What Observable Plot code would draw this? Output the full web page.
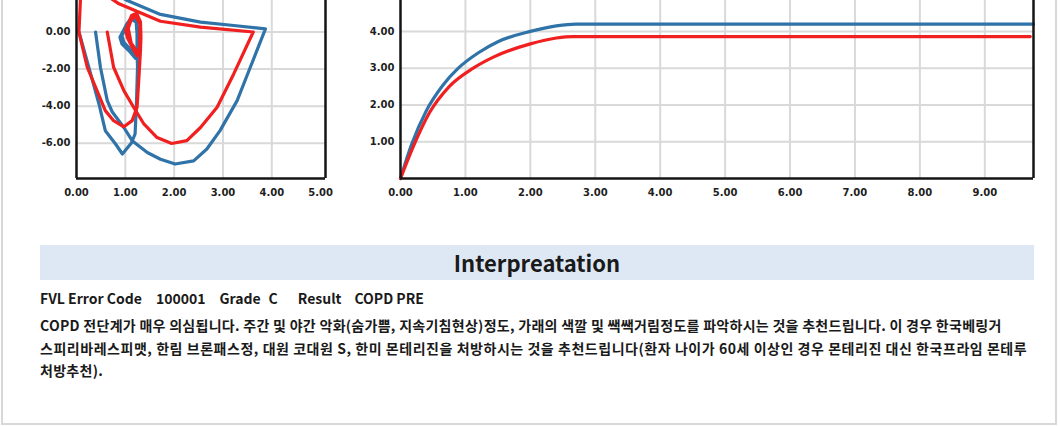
<!DOCTYPE html>
<html>
<head>
<meta charset="utf-8">
<script src="https://cdn.jsdelivr.net/npm/d3@7"></script>
<script src="https://cdn.jsdelivr.net/npm/@observablehq/plot@0.6"></script>
<style>
  html, body { margin: 0; padding: 0; background: #fff; }
  #page { position: relative; width: 1060px; height: 426px; overflow: hidden; background: #fff; }
  #border { position: absolute; left: 1px; top: -10px; width: 1056px; height: 435px; border: 2px solid #d8d8d8; box-sizing: border-box; }
  #fvl { position: absolute; left: 0; top: 0; }
  #vt { position: absolute; left: 345px; top: 0; }
  #band { position: absolute; left: 40px; top: 245px; width: 994px; height: 35px; background: #dee8f4;
          font-family: "Noto Sans CJK KR", "Noto Sans", sans-serif; font-weight: 700; font-size: 22px;
          color: #1a1a1a; text-align: center; line-height: 35px; }
  #info { position: absolute; left: 40px; top: 288px; font-family: "Noto Sans CJK KR", "Noto Sans", sans-serif;
          font-weight: 700; font-size: 14px; color: #1a1a1a; white-space: nowrap; line-height: 20px; }
  #info span { display: inline-block; }
  #info span:nth-child(1) { margin-right: 14px; }
  #info span:nth-child(2) { margin-right: 14px; }
  #info span:nth-child(3) { margin-right: 8px; }
  #info span:nth-child(4) { margin-right: 20px; }
  #info span:nth-child(5) { margin-right: 13px; }
  #para { position: absolute; left: 40px; top: 314px; font-family: "Noto Sans CJK KR", "Noto Sans", sans-serif;
          font-weight: 700; font-size: 14px; letter-spacing: 0.28px; color: #1a1a1a; line-height: 22.5px; }
  #para div { white-space: nowrap; }
  #para div:nth-child(2) { letter-spacing: 0.54px; }
</style>
</head>
<body>
<div id="page">
  <div id="border"></div>
  <div id="fvl"></div>
  <div id="vt"></div>
  <div id="band"></div>
  <div id="info"></div>
  <div id="para"></div>
</div>
<script>
// ---------- Data ----------
// Flow-volume chart (left): volume (x), flow (y)
const fvlXTicks = [0, 1, 2, 3, 4, 5];
const fvlYTicks = [0, -2, -4, -6];
const fvlXGrid = [1, 2, 3, 4];
const fvlYGrid = [0, -2, -4, -6];

const blueBigLoop = [
  [0.39, 0.0], [0.49, -1.9], [0.63, -3.7], [0.73, -4.3], [0.97, -5.15], [1.14, -5.86], [1.45, -6.5],
  [1.72, -6.86], [2.02, -7.12], [2.40, -6.95], [2.67, -6.31], [2.94, -5.32], [3.29, -3.7],
  [3.56, -1.9], [3.87, 0.17], [3.22, 0.35], [2.54, 0.53], [1.72, 0.95], [1.04, 1.7], [0.7, 2.2]
];
const blueVLoop = [
  [0.05, 0.0], [0.29, -2.26], [0.46, -3.88], [0.59, -5.32], [0.80, -6.04], [0.94, -6.58],
  [1.12, -6.0], [1.20, -5.5], [1.23, -3.7], [1.25, -1.9], [1.24, -1.0], [1.24, -0.1],
  [1.22, 0.62], [1.14, 0.82], [1.03, 0.44], [0.89, -0.28], [0.93, -0.64], [1.07, -1.0],
  [1.21, -1.42], [1.27, -1.0], [1.27, -0.1], [1.23, 0.52], [1.13, 0.68], [1.02, 0.3],
  [0.93, -0.2], [0.97, -0.55], [1.1, -0.92], [1.2, -1.2]
];
const redBigLoop = [
  [0.63, 0.0], [0.76, -1.9], [0.97, -3.16], [1.17, -4.06], [1.38, -4.96], [1.65, -5.69],
  [1.95, -6.01], [2.26, -5.86], [2.54, -5.15], [2.88, -4.06], [3.22, -2.26], [3.62, 0.0],
  [2.54, 0.26], [1.72, 0.58], [0.87, 1.52], [0.6, 2.0]
];
const redVLoop = [
  [0.1, 2.2], [0.08, 1.7], [0.05, 0.0], [0.22, -1.9], [0.42, -3.16], [0.59, -4.24], [0.76, -4.78],
  [0.97, -5.11], [1.14, -4.78], [1.24, -4.06], [1.27, -2.8], [1.31, -1.0], [1.32, -0.28],
  [1.31, 0.55], [1.23, 1.02], [1.13, 0.9], [1.01, 0.1], [1.04, -0.28], [1.14, -0.82],
  [1.24, -1.27], [1.29, -1.0], [1.3, 0.4], [1.22, 0.85], [1.12, 0.66], [1.06, 0.2], [1.12, -0.6], [1.26, -1.1]
];

// Volume-time chart (right): time (x), volume (y)
const vtXTicks = [0, 1, 2, 3, 4, 5, 6, 7, 8, 9];
const vtYTicks = [1, 2, 3, 4];
const blueVT = [
  [0, 0], [0.17, 0.92], [0.4, 1.85], [0.65, 2.53], [0.89, 3.0], [1.2, 3.42], [1.5, 3.72],
  [2.0, 4.0], [2.4, 4.15], [2.7, 4.2], [9.75, 4.2]
];
const redVT = [
  [0, 0], [0.2, 0.88], [0.45, 1.8], [0.75, 2.5], [1.12, 3.0], [1.43, 3.3], [2.0, 3.66],
  [2.4, 3.82], [2.65, 3.86], [9.7, 3.86]
];

// Texts
const bandTitle = "Interpreatation";
const infoItems = ["FVL Error Code", "100001", "Grade", "C", "Result", "COPD PRE"];
const paraLines = [
  "COPD 전단계가 매우 의심됩니다. 주간 및 야간 악화(숨가쁨, 지속기침현상)정도, 가래의 색깔 및 쌕쌕거림정도를 파악하시는 것을 추천드립니다. 이 경우 한국베링거",
  "스피리바레스피맷, 한림 브론패스정, 대원 코대원 S, 한미 몬테리진을 처방하시는 것을 추천드립니다(환자 나이가 60세 이상인 경우 몬테리진 대신 한국프라임 몬테루",
  "처방추천)."
];

// ---------- Styles ----------
const BLUE = "#2f73a8";
const RED = "#f02020";
const GRID = "#d9d9d9";
const AXIS = "#141414";
const fmt = d => d.toFixed(2);
const axisStyle = { fontFamily: "DejaVu Sans", fontSize: "10px", fontWeight: "bold", color: "#1e1e1e", background: "transparent" };

// ---------- Left chart ----------
const fvlX = [0, 5.1], fvlY = [-7.9, 1.7];
const fvl = Plot.plot({
  width: 345, height: 210, marginLeft: 76, marginRight: 20, marginTop: 0, marginBottom: 32,
  style: axisStyle,
  x: { domain: fvlX },
  y: { domain: fvlY },
  marks: [
    Plot.gridX({ ticks: fvlXGrid, stroke: GRID, strokeOpacity: 1, strokeWidth: 2 }),
    Plot.gridY({ ticks: fvlYGrid, stroke: GRID, strokeOpacity: 1, strokeWidth: 2 }),
    Plot.line(blueBigLoop, { x: d => d[0], y: d => d[1], stroke: BLUE, strokeWidth: 3.2, clip: true }),
    Plot.line(blueVLoop, { x: d => d[0], y: d => d[1], stroke: BLUE, strokeWidth: 3.2, clip: true }),
    Plot.line(redBigLoop, { x: d => d[0], y: d => d[1], stroke: RED, strokeWidth: 3.2, clip: true }),
    Plot.line(redVLoop, { x: d => d[0], y: d => d[1], stroke: RED, strokeWidth: 3.2, clip: true }),
    Plot.ruleX([fvlX[0]], { stroke: AXIS, strokeWidth: 2.5 }),
    Plot.ruleX([fvlX[1]], { stroke: AXIS, strokeWidth: 2.5 }),
    Plot.ruleY([fvlY[0]], { stroke: AXIS, strokeWidth: 2.5 }),
    Plot.axisX({ ticks: fvlXTicks, tickSize: 0, tickPadding: 10, tickFormat: fmt, label: null }),
    Plot.axisY({ ticks: fvlYTicks, tickSize: 0, tickPadding: 6, tickFormat: fmt, label: null })
  ]
});
document.getElementById("fvl").appendChild(fvl);

// ---------- Right chart ----------
const vtX = [0, 9.75], vtY = [0, 4.84];
const vt = Plot.plot({
  width: 715, height: 210, marginLeft: 55, marginRight: 27, marginTop: 0, marginBottom: 32,
  style: axisStyle,
  x: { domain: vtX },
  y: { domain: vtY },
  marks: [
    Plot.gridX({ ticks: vtXTicks.filter(d => d > 0), stroke: GRID, strokeOpacity: 1, strokeWidth: 2 }),
    Plot.gridY({ ticks: vtYTicks, stroke: GRID, strokeOpacity: 1, strokeWidth: 2 }),
    Plot.line(blueVT, { x: d => d[0], y: d => d[1], stroke: BLUE, strokeWidth: 3.2, curve: "monotone-x" }),
    Plot.line(redVT, { x: d => d[0], y: d => d[1], stroke: RED, strokeWidth: 3.2, curve: "monotone-x" }),
    Plot.ruleX([vtX[0]], { stroke: AXIS, strokeWidth: 2.5 }),
    Plot.ruleX([vtX[1]], { stroke: AXIS, strokeWidth: 2.5 }),
    Plot.ruleY([vtY[0]], { stroke: AXIS, strokeWidth: 2.5 }),
    Plot.axisX({ ticks: vtXTicks, tickSize: 0, tickPadding: 10, tickFormat: fmt, label: null }),
    Plot.axisY({ ticks: vtYTicks, tickSize: 0, tickPadding: 6, tickFormat: fmt, label: null })
  ]
});
document.getElementById("vt").appendChild(vt);

// ---------- Texts ----------
document.getElementById("band").textContent = bandTitle;
const info = document.getElementById("info");
infoItems.forEach(t => { const s = document.createElement("span"); s.textContent = t; info.appendChild(s); });
const para = document.getElementById("para");
paraLines.forEach(t => { const d = document.createElement("div"); d.textContent = t; para.appendChild(d); });
</script>
</body>
</html>
